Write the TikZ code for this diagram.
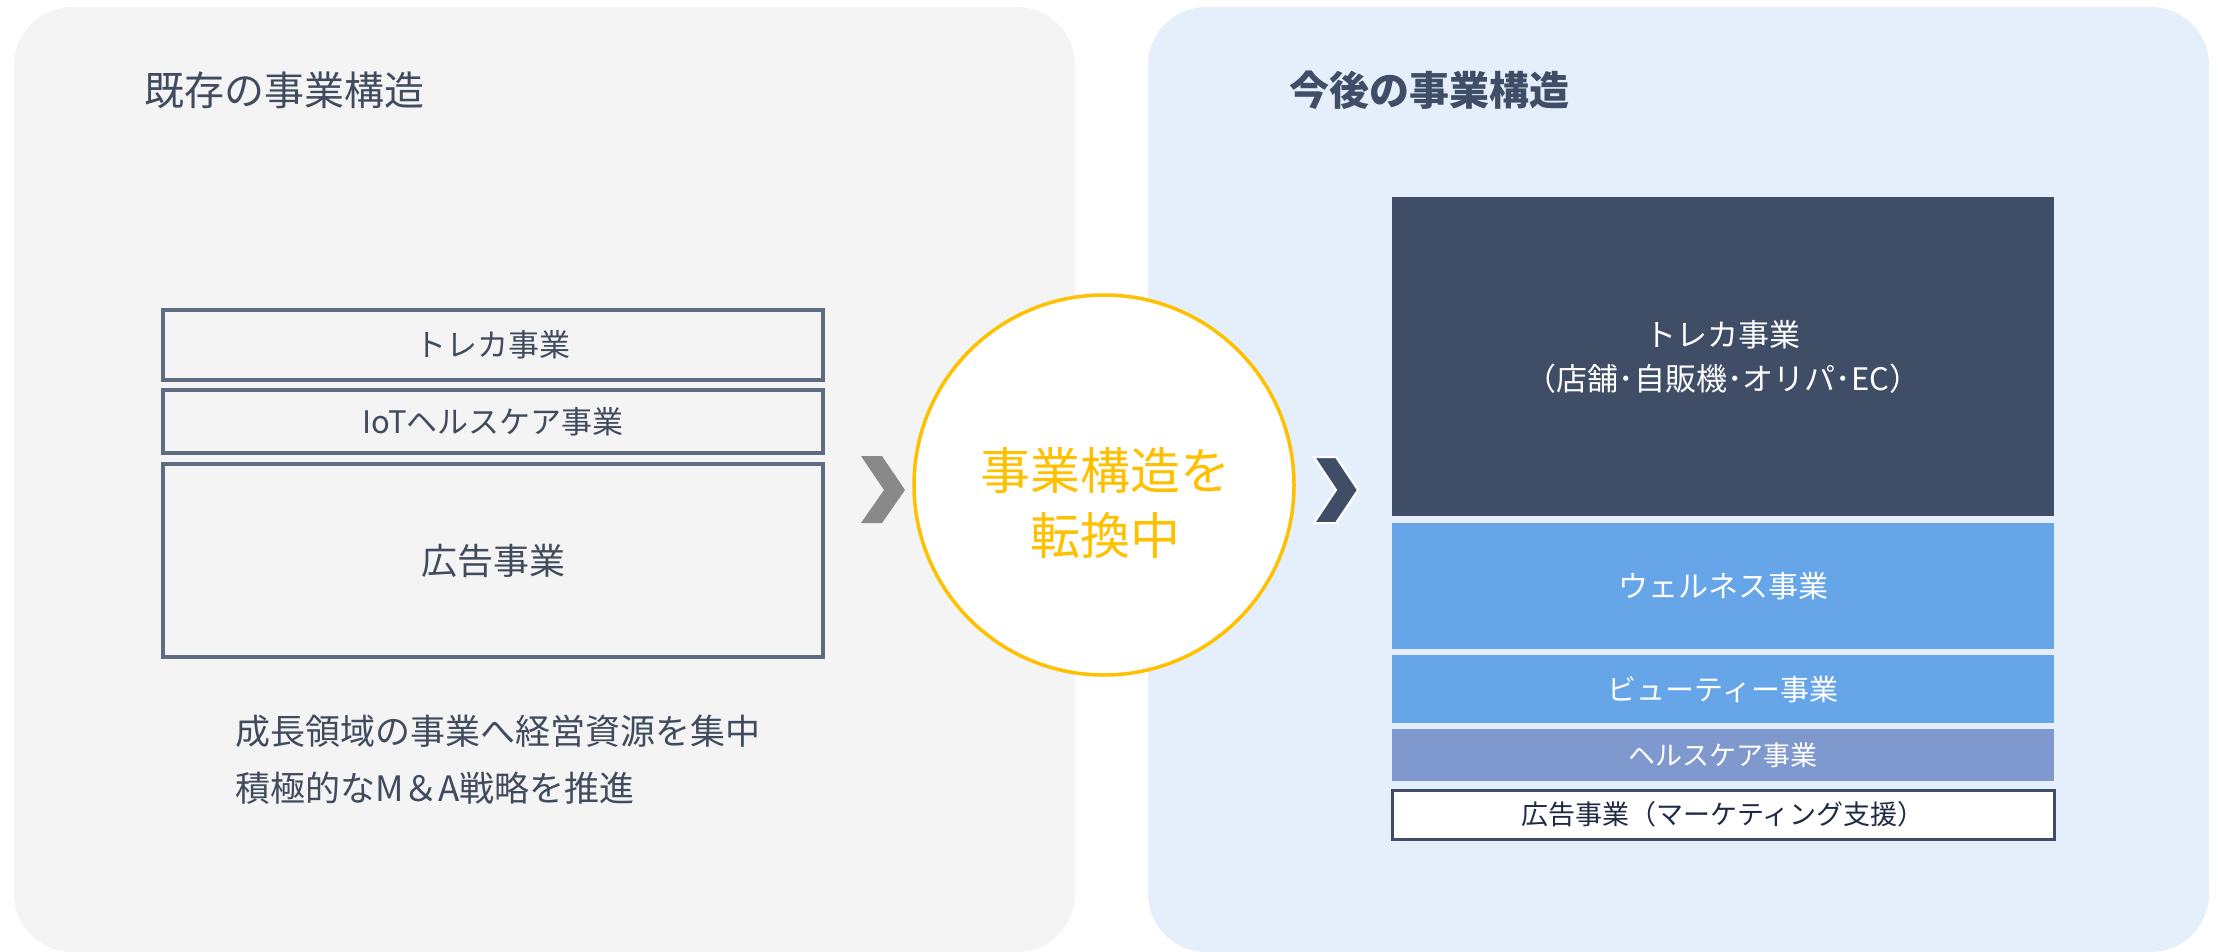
\documentclass[tikz,border=0pt]{standalone}
\usepackage{fontspec}
\setmainfont{Noto Sans CJK JP}
\definecolor{leftbg}{HTML}{F4F4F4}
\definecolor{rightbg}{HTML}{E5EFFB}
\definecolor{oldedge}{HTML}{5F6B80}
\definecolor{oldtext}{HTML}{404B5E}
\definecolor{navy}{HTML}{3F4E66}
\definecolor{wellblue}{HTML}{67A5E9}
\definecolor{healthblue}{HTML}{7F98CE}
\definecolor{gold}{HTML}{FFC000}
\definecolor{chevgray}{HTML}{898989}
\definecolor{adtext}{HTML}{1F2A44}
\begin{document}
\begin{tikzpicture}[x=1pt,y=-1pt,
  oldbox/.style={draw=oldedge, line width=3.5pt, minimum width=660pt, inner sep=0pt, text=oldtext},
  newbox/.style={minimum width=662pt, inner sep=0pt, text=white},
  title/.style={anchor=west, inner sep=0pt},
  note/.style={anchor=west, inner sep=0pt, text=oldtext, font=\fontsize{35}{42}\selectfont}]
\useasboundingbox (0,0) rectangle (2218,951);
% panels
\fill[leftbg, rounded corners=58pt] (14,7) rectangle (1075,952);
\fill[rightbg, rounded corners=58pt] (1148,7) rectangle (2209,952);
% titles
\node[title, text=oldtext, font=\fontsize{40}{48}\selectfont] (oldtitle) at (144,90) {既存の事業構造};
\node[title, text=navy, font=\bfseries\fontsize{40}{48}\selectfont] (newtitle) at (1289,90) {今後の事業構造};
% old structure
\node[oldbox, minimum height=70pt, font=\fontsize{31}{37}\selectfont] (old1) at (493,345) {トレカ事業};
\node[oldbox, minimum height=63pt, font=\fontsize{31}{37}\selectfont] (old2) at (493,421.5) {IoTヘルスケア事業};
\node[oldbox, minimum height=193pt, font=\fontsize{36}{43}\selectfont] (old3) at (493,560.5) {広告事業};
\node[note] (note1) at (235,731) {成長領域の事業へ経営資源を集中};
\node[note] (note2) at (235,788) {積極的なM＆A戦略を推進};
% chevrons
\fill[chevgray] (861,456) -- (882,456) -- (905,490) -- (882,523) -- (861,523) -- (884,490) -- cycle;
\filldraw[fill=navy, draw=white, line width=2pt] (1314,457) -- (1336,457) -- (1358,490) -- (1336,523) -- (1314,523) -- (1336,490) -- cycle;
% circle
\node[circle, draw=gold, line width=3.5pt, fill=white, minimum size=380pt, inner sep=0pt] (mid) at (1104,485) {};
\node[text=gold, align=center, inner sep=0pt, font=\fontsize{50}{65}\selectfont] (midtext) at (1105,503.5) {事業構造を\\転換中};
% new structure
\node[newbox, fill=navy, minimum height=319pt, align=center, font=\fontsize{31}{44}\selectfont] (new1) at (1723,356.5) {トレカ事業\\（店舗･自販機･オリパ･EC）};
\node[newbox, fill=wellblue, minimum height=126pt, font=\fontsize{30}{36}\selectfont] (new2) at (1723,586) {ウェルネス事業};
\node[newbox, fill=wellblue, minimum height=68pt, font=\fontsize{29}{35}\selectfont] (new3) at (1723,689) {ビューティー事業};
\node[newbox, fill=healthblue, minimum height=52pt, font=\fontsize{27}{32}\selectfont] (new4) at (1723,755) {ヘルスケア事業};
\node[newbox, fill=white, draw=navy, line width=3pt, minimum height=49pt, text=adtext, font=\fontsize{27}{32}\selectfont] (new5) at (1723,814.5) {広告事業（マーケティング支援）};
\end{tikzpicture}
\end{document}
